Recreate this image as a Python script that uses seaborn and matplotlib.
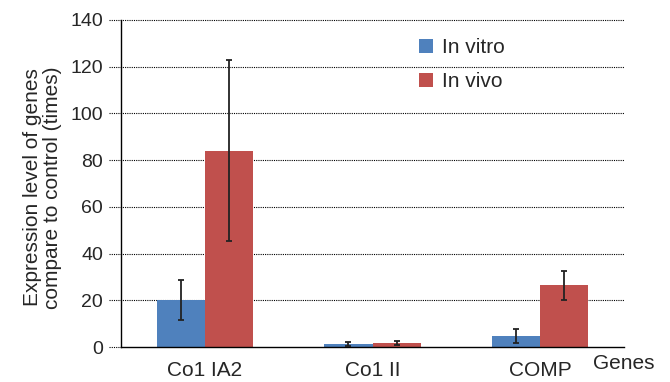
import matplotlib
matplotlib.use("Agg")
import matplotlib.pyplot as plt
import seaborn as sns
import pandas as pd

genes = ["Co1 IA2", "Co1 II", "COMP"]
conditions = ["In vitro", "In vivo"]
in_vitro = [20.0, 1.4, 4.7]
in_vivo = [84.0, 1.9, 26.5]
err_vitro = [8.5, 0.9, 3.2]
err_vivo = [38.8, 0.85, 6.2]
yticks = [0, 20, 40, 60, 80, 100, 120, 140]

df = pd.DataFrame({
    "gene": genes * 2,
    "cond": [conditions[0]] * 3 + [conditions[1]] * 3,
    "val": in_vitro + in_vivo,
})

sns.set_style("white")
plt.rcParams["font.family"] = ["Liberation Sans", "DejaVu Sans"]

fig = plt.figure(figsize=(6.7, 3.82), dpi=100)
ax = fig.add_axes([121/670, 35/382, 503/670, 327/382])

pal = {"In vitro": "#4F81BD", "In vivo": "#C0504D"}
sns.barplot(data=df, x="gene", y="val", hue="cond", order=genes,
            hue_order=conditions, palette=pal, width=0.575,
            saturation=1, ax=ax, errorbar=None, linewidth=0, zorder=3)

# error bars
errs = err_vitro + err_vivo
vals = in_vitro + in_vivo
for p, v, e in zip(ax.patches[:6], vals, errs):
    cx = p.get_x() + p.get_width() / 2
    ax.errorbar(cx, v, yerr=e, color="#222222", lw=1.3, capsize=2,
                capthick=1.3, zorder=4)

ax.set_ylim(0, 140)
ax.set_yticks(yticks)
ax.set_xlim(-0.5, 2.5)
for t in yticks[1:]:
    ax.axhline(t, xmin=-12/503, xmax=1, color="black", lw=0.8,
               linestyle=(0, (1, 1)), clip_on=False, zorder=1)
ax.axhline(0, xmin=-12/503, xmax=0, color="black", lw=0.8,
           linestyle=(0, (1, 1)), clip_on=False, zorder=1)

for s in ["top", "right"]:
    ax.spines[s].set_visible(False)
for s in ["left", "bottom"]:
    ax.spines[s].set_color("black")
    ax.spines[s].set_linewidth(1)
    ax.spines[s].set_zorder(5)

ax.set_xticks([0, 1, 2])
ax.set_xticklabels(genes, fontsize=15)
ax.tick_params(axis="x", length=0, pad=10)
ax.set_xticks([-0.5, 0.5, 1.5, 2.5], minor=True)
ax.tick_params(axis="x", which="minor", length=6, direction="out", width=1, color="black")
ax.tick_params(axis="y", labelsize=14, length=0, pad=13)

ax.set_xlabel("")
ax.set_ylabel("Expression level of genes\ncompare to control (times)",
              fontsize=15, linespacing=1.1)
ax.yaxis.set_label_coords(-0.117, 0.488)
fig.text(593/670, 1 - 354/382, "Genes", fontsize=15, ha="left", va="top")

ax.legend(loc="upper left", bbox_to_anchor=(0.592, 0.945), frameon=False,
          fontsize=15, handlelength=0.67, handleheight=0.67,
          handletextpad=0.43, labelspacing=0.74, borderpad=0,
          borderaxespad=0)

fig.savefig("out.png", dpi=100)
